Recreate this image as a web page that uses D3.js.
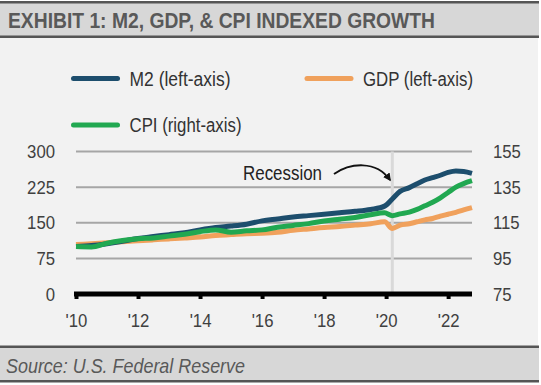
<!DOCTYPE html>
<meta charset="utf-8">
<style>
  body { margin: 0; background: #fff; }
  text { font-family: "Liberation Sans", Arial, sans-serif; }
</style>
<script src="https://d3js.org/d3.v7.min.js"></script>
<div id="chart"></div>
<script>

// data (decimal years; M2 & GDP on left axis, CPI on right)
var dates = [2010, 2010.5, 2011, 2011.5, 2012, 2012.5, 2013, 2013.5, 2014, 2014.5,
             2015, 2015.5, 2016, 2016.5, 2017, 2017.5, 2018, 2018.5, 2019, 2019.5,
             2019.95, 2020.2, 2020.45, 2020.75, 2021, 2021.25, 2021.5, 2021.75,
             2022, 2022.25, 2022.5, 2022.77];
var m2  = [100, 102, 106, 111, 117, 121, 125, 129, 135, 140,
           143, 147, 154, 158, 162, 165, 168, 171, 174, 178,
           185, 200, 216, 224, 232, 240, 245, 250,
           256, 259, 258, 254];
var gdp = [104, 106, 108, 110, 112, 114, 116, 118, 120, 123,
           125, 127, 128, 130, 134, 137, 140, 142, 145, 148,
           152, 138, 145, 148, 152, 156, 159, 164,
           168, 172, 177, 182];
var cpi = [101.6, 101.4, 103.5, 105, 106, 106.5, 107.5, 108.5, 110, 111,
           109.7, 110.5, 111, 112.5, 113.5, 114.5, 116, 117, 118, 119.5,
           120.6, 119, 120, 121, 122.5, 124.5, 126.5, 129,
           132, 135, 137, 138.6];

var xTicks = [2010, 2012, 2014, 2016, 2018, 2020, 2022];
var leftTicks = [0, 75, 150, 225, 300];
var rightTicks = [75, 95, 115, 135, 155];
var recessionDate = 2020.2;

var W = 541, H = 385;
var svg = d3.select("#chart").append("svg")
    .attr("width", W).attr("height", H);

// squeeze text horizontally (no condensed font installed)
function narrow(sel, k) {
  sel.each(function() {
    var w = this.getComputedTextLength();
    d3.select(this).attr("textLength", w * k).attr("lengthAdjust", "spacingAndGlyphs");
  });
}

// frame: header, body, footer
svg.append("rect").attr("x", 0).attr("y", 38).attr("width", 538).attr("height", 308).attr("fill", "#f2f2f2");
svg.append("rect").attr("x", 0).attr("y", 2).attr("width", 539).attr("height", 35).attr("fill", "#d7d7d7");
svg.append("rect").attr("x", 0).attr("y", 1).attr("width", 539).attr("height", 2.5).attr("fill", "#555");
svg.append("rect").attr("x", 0).attr("y", 35.5).attr("width", 539).attr("height", 2.5).attr("fill", "#555");
svg.append("rect").attr("x", 0).attr("y", 348).attr("width", 539).attr("height", 33).attr("fill", "#d7d7d7");
svg.append("rect").attr("x", 0).attr("y", 345.5).attr("width", 539).attr("height", 2.5).attr("fill", "#555");
svg.append("rect").attr("x", 0).attr("y", 380).attr("width", 539).attr("height", 2.5).attr("fill", "#555");

svg.append("text").attr("x", 8).attr("y", 27.5)
    .attr("textLength", 427).attr("lengthAdjust", "spacingAndGlyphs")
    .style("font-size", "22px").style("font-weight", "bold").attr("fill", "#595959")
    .text("EXHIBIT 1: M2, GDP, & CPI INDEXED GROWTH");

svg.append("text").attr("x", 6).attr("y", 372.5)
    .attr("textLength", 239).attr("lengthAdjust", "spacingAndGlyphs")
    .style("font-size", "21px").style("font-style", "italic").attr("fill", "#595959")
    .text("Source: U.S. Federal Reserve");

// scales
var x = d3.scaleLinear().domain([2010, 2022.77]).range([76, 472]);
var yL = d3.scaleLinear().domain([0, 300]).range([294, 151.5]);
var yR = d3.scaleLinear().domain([75, 155]).range([294, 151.5]);

// gridlines
svg.append("g").selectAll("line")
    .data(leftTicks.slice(1))
  .enter().append("line")
    .attr("x1", x(2010)).attr("x2", x(2022.77))
    .attr("y1", function(d) { return yL(d); })
    .attr("y2", function(d) { return yL(d); })
    .attr("stroke", "#a6a6a6").attr("stroke-width", 2);

// recession marker
svg.append("line")
    .attr("x1", x(recessionDate)).attr("x2", x(recessionDate))
    .attr("y1", yL(300)).attr("y2", yL(0))
    .attr("stroke", "#d9d9d9").attr("stroke-width", 3);

// left & right axes (labels only)
var gl = svg.append("g").attr("transform", "translate(76,0)")
    .call(d3.axisLeft(yL).tickValues(leftTicks).tickSize(0).tickPadding(21));
var gr = svg.append("g").attr("transform", "translate(472,0)")
    .call(d3.axisRight(yR).tickValues(rightTicks).tickSize(0).tickPadding(21));
[gl, gr].forEach(function(g) {
  g.select(".domain").remove();
  g.selectAll("text").style("font-size", "19px").attr("fill", "#404040")
    .style("font-family", "'Liberation Sans', sans-serif")
    .call(narrow, 0.88);
});

// lines
function makeLine(vals, yScale) {
  return d3.line()
    .x(function(d, i) { return x(dates[i]); })
    .y(function(d) { return yScale(d); })
    .curve(d3.curveMonotoneX)(vals);
}
svg.append("path").attr("d", makeLine(gdp, yL))
    .attr("fill", "none").attr("stroke", "#f0a15c").attr("stroke-width", 5).attr("stroke-linejoin", "round");
svg.append("path").attr("d", makeLine(m2, yL))
    .attr("fill", "none").attr("stroke", "#1d4e6d").attr("stroke-width", 5).attr("stroke-linejoin", "round");
svg.append("path").attr("d", makeLine(cpi, yR))
    .attr("fill", "none").attr("stroke", "#21a851").attr("stroke-width", 5).attr("stroke-linejoin", "round");

// x axis
var gx = svg.append("g").attr("transform", "translate(0,294)")
    .call(d3.axisBottom(x).tickValues(xTicks).tickSize(5).tickPadding(15)
      .tickFormat(function(d) { return "'" + String(d).slice(2); }));
gx.select(".domain").attr("stroke", "#000").attr("stroke-width", 5)
    .attr("d", "M74,0H472");
gx.selectAll(".tick line").attr("stroke", "#000").attr("stroke-width", 4);
gx.selectAll("text").style("font-size", "19px").attr("fill", "#404040")
    .style("font-family", "'Liberation Sans', sans-serif")
    .call(narrow, 0.88);

// recession annotation
svg.append("text").attr("x", 243).attr("y", 180)
    .attr("textLength", 79).attr("lengthAdjust", "spacingAndGlyphs")
    .style("font-size", "20px").attr("fill", "#222").text("Recession");
svg.append("defs").append("marker")
    .attr("id", "arrow").attr("viewBox", "0 0 10 10")
    .attr("refX", 8).attr("refY", 5)
    .attr("markerWidth", 4).attr("markerHeight", 4)
    .attr("orient", "auto")
  .append("path").attr("d", "M0,0L10,5L0,10z").attr("fill", "#111");
svg.append("path")
    .attr("d", "M334,174C350,163 376,160 390,180")
    .attr("fill", "none").attr("stroke", "#111").attr("stroke-width", 2)
    .attr("marker-end", "url(#arrow)");

// legend
var legendNames = ["M2 (left-axis)", "GDP (left-axis)", "CPI (right-axis)"];
var legendColors = ["#1d4e6d", "#f0a15c", "#21a851"];
var legendPos = [[73.5, 78.5], [307, 78.5], [73.5, 125]];
var legendWidths = [101, 110, 112];
legendNames.forEach(function(name, i) {
  var p = legendPos[i];
  svg.append("line").attr("x1", p[0]).attr("x2", p[0] + 44)
      .attr("y1", p[1]).attr("y2", p[1])
      .attr("stroke", legendColors[i]).attr("stroke-width", 5).attr("stroke-linecap", "round");
  svg.append("text").attr("x", p[0] + 56).attr("y", p[1] + 7)
      .attr("textLength", legendWidths[i]).attr("lengthAdjust", "spacingAndGlyphs")
      .style("font-size", "20px").attr("fill", "#333").text(name);
});

</script>
